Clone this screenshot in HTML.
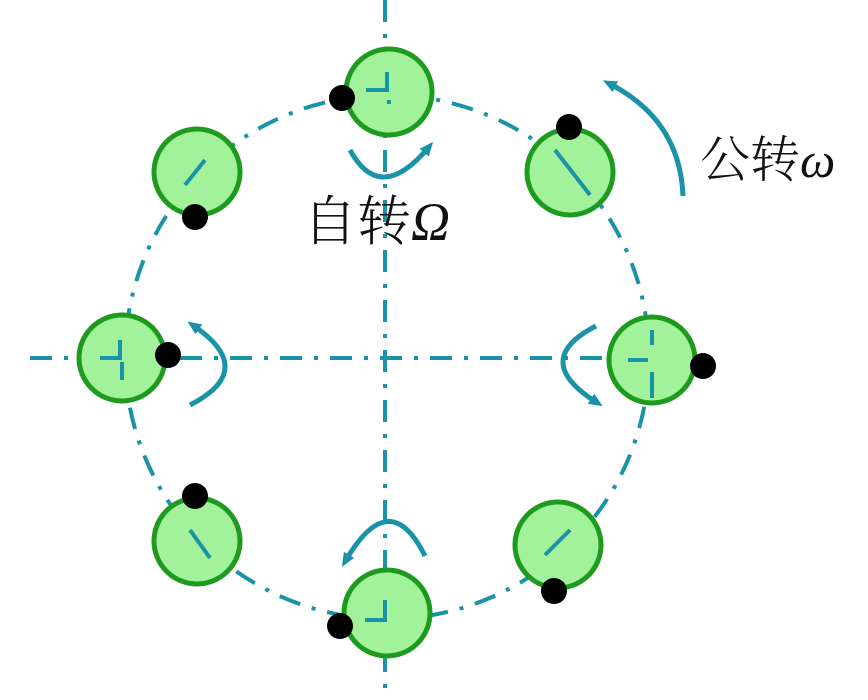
<!DOCTYPE html>
<html><head><meta charset="utf-8"><style>body{margin:0;background:#fff}svg{display:block}</style></head><body>
<svg width="868" height="700" viewBox="0 0 868 700" xmlns="http://www.w3.org/2000/svg">
<defs>
<marker id="ah" markerWidth="14" markerHeight="12" refX="6" refY="6" orient="auto" markerUnits="userSpaceOnUse" viewBox="0 0 14 12"><path d="M0,0 L14,6 L0,12 Z" fill="#1a93a8"/></marker>
</defs>
<g stroke="#1a93a8" stroke-width="4" fill="none" stroke-dasharray="22,12,4,12">
<line x1="385" y1="0" x2="385" y2="700"/>
<line x1="30" y1="358" x2="610" y2="358"/>
<circle cx="387" cy="357" r="262"/>
</g>
<g fill="#a2f29c" stroke="#1e9b1e" stroke-width="5">
<circle cx="389" cy="92" r="43"/>
<circle cx="570" cy="172" r="43"/>
<circle cx="652" cy="360" r="43"/>
<circle cx="558" cy="545" r="43"/>
<circle cx="387" cy="613" r="43"/>
<circle cx="197" cy="541" r="43"/>
<circle cx="122" cy="358" r="43"/>
<circle cx="197" cy="172" r="43"/>
</g>
<g stroke="#1a93a8" stroke-width="4" fill="none">
<path d="M366,90 H387 V72 M389,100 V104"/>
<path d="M628,360 H648 M652,330 V345 M652,372 V398"/>
<path d="M100,358 H120 V340 M122,362 V380"/>
<path d="M365,620 H385 V600"/>
<path d="M555,150 L590,195"/>
<path d="M185,185 L205,160"/>
<path d="M545,555 L570,530"/>
<path d="M190,530 L210,558"/>
</g>
<g stroke="#1a93a8" stroke-width="5" fill="none" marker-end="url(#ah)">
<path d="M350,150 Q380,205 428,148"/>
<path d="M596,326 Q530,360 596,402"/>
<path d="M190,405 Q258,370 194,326"/>
<path d="M425,556 Q390,485 346,560"/>
<path d="M683,196 Q680,120 610,84"/>
</g>
<g fill="#000">
<circle cx="342" cy="98" r="13"/>
<circle cx="569" cy="127" r="13"/>
<circle cx="703" cy="366" r="13"/>
<circle cx="554" cy="591" r="13"/>
<circle cx="340" cy="626" r="13"/>
<circle cx="195" cy="496" r="13"/>
<circle cx="168" cy="355" r="13"/>
<circle cx="195" cy="217" r="13"/>
</g>
<text x="303" y="240" font-family="'Noto Serif CJK SC','Liberation Serif',serif" font-weight="300" font-size="54" fill="#111">自转<tspan font-family="'Liberation Serif',serif" font-style="italic">Ω</tspan></text>
<text x="700" y="177" font-family="'Noto Serif CJK SC','Liberation Serif',serif" font-weight="300" font-size="50" fill="#111">公转<tspan font-family="'Liberation Serif',serif" font-style="italic">ω</tspan></text>
</svg>
</body></html>
